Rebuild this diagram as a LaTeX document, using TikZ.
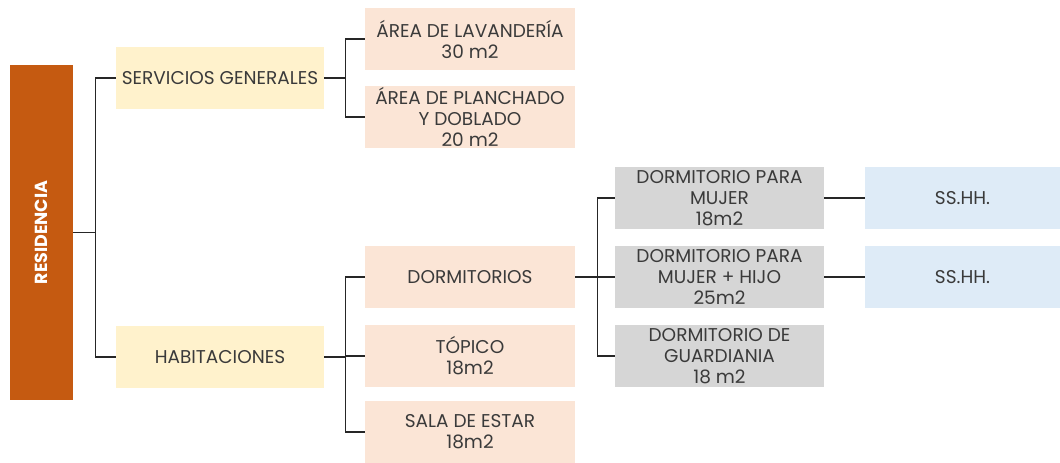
\documentclass[tikz,border=0pt]{standalone}
\usepackage{fontspec}
\setmainfont{Poppins}
\usetikzlibrary{positioning}
\definecolor{resc}{HTML}{C55A11}
\definecolor{yel}{HTML}{FFF2CC}
\definecolor{peach}{HTML}{FBE5D6}
\definecolor{grey}{HTML}{D6D6D6}
\definecolor{blu}{HTML}{DEEBF7}
\definecolor{txt}{HTML}{3A3A3A}
\tikzset{
  box/.style={rectangle, inner sep=0pt, align=center, text=txt, font=\fontsize{18.5}{21}\selectfont, minimum height=62pt},
  lvl1/.style={box, fill=yel, minimum width=208pt},
  lvl2/.style={box, fill=peach, minimum width=210pt},
  lvl3/.style={box, fill=grey, minimum width=209pt},
  lvl4/.style={box, fill=blu, minimum width=195pt},
  conn/.style={draw=black!85, line width=1.2pt}
}
\begin{document}
\begin{tikzpicture}[x=1pt,y=-1pt]
\useasboundingbox (0,0) rectangle (1060,463);
\node[rectangle, fill=resc, minimum width=63pt, minimum height=335pt, inner sep=0pt] (res) at (41.5,232.5) {};
\node[rotate=90, text=white, font=\fontsize{17.5}{20}\selectfont\bfseries] (restxt) at (res.center) {RESIDENCIA};
\node[lvl1] (sg) at (220,78) {SERVICIOS GENERALES};
\node[lvl1] (hab) at (220,357) {HABITACIONES};
\node[lvl2] (lav) at (470,39) {ÁREA DE LAVANDERÍA\\30 m2};
\node[lvl2] (pla) at (470,117) {ÁREA DE PLANCHADO\\Y DOBLADO\\20 m2};
\node[lvl2] (dor) at (470,277) {DORMITORIOS};
\node[lvl2] (top) at (470,356) {TÓPICO\\18m2};
\node[lvl2] (sala) at (470,432) {SALA DE ESTAR\\18m2};
\node[lvl3] (muj) at (719.5,198) {DORMITORIO PARA\\MUJER\\18m2};
\node[lvl3] (hijo) at (719.5,277) {DORMITORIO PARA\\MUJER + HIJO\\25m2};
\node[lvl3] (gua) at (719.5,356) {DORMITORIO DE\\GUARDIANIA\\18 m2};
\node[lvl4] (ss1) at (962.5,198) {SS.HH.};
\node[lvl4] (ss2) at (962.5,277) {SS.HH.};
% connectors
\draw[conn] (res.east) -- ++(22,0) coordinate (rj);
\draw[conn] (rj) |- (sg.west);
\draw[conn] (rj) |- (hab.west);
\draw[conn] (sg.east) -- ++(21,0) coordinate (sj);
\draw[conn] (sj) |- (lav.west);
\draw[conn] (sj) |- (pla.west);
\draw[conn] (hab.east) -- ++(21,0) coordinate (hj);
\draw[conn] (hj) |- (dor.west);
\draw[conn] (hj) |- (top.west);
\draw[conn] (hj) |- (sala.west);
\draw[conn] (dor.east) -- ++(22,0) coordinate (dj);
\draw[conn] (dj) |- (muj.west);
\draw[conn] (dj) |- (hijo.west);
\draw[conn] (dj) |- (gua.west);
\draw[conn] (muj.east) -- (ss1.west);
\draw[conn] (hijo.east) -- (ss2.west);
\end{tikzpicture}
\end{document}
